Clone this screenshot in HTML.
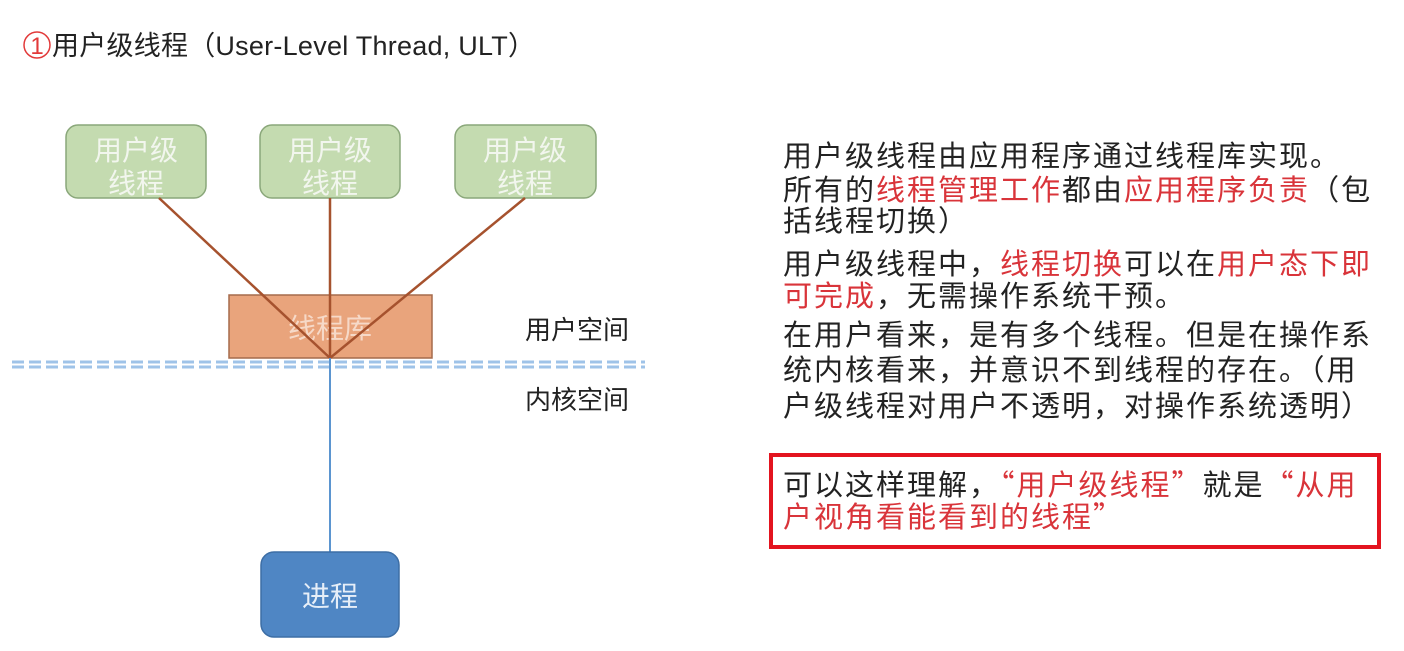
<!DOCTYPE html>
<html><head><meta charset="utf-8"><style>
body{margin:0;width:1404px;height:651px;background:#fff;position:relative;overflow:hidden;font-family:"Liberation Sans","Noto Sans CJK SC",sans-serif}
.t{position:absolute;left:783px;font-size:29px;letter-spacing:2px;color:#222;white-space:nowrap;line-height:34px;font-family:"Noto Sans CJK SC",sans-serif}
.r{color:#d9343a}
</style></head><body>
<svg width="1404" height="651" style="position:absolute;left:0;top:0">
<circle cx="37" cy="45" r="13" fill="none" stroke="#e23a3a" stroke-width="1.5"/>
<text x="37" y="54" font-size="24" fill="#e23a3a" text-anchor="middle" font-family="Liberation Sans,sans-serif">1</text>
<text x="52" y="55" font-size="27" fill="#222" font-family="Liberation Sans,Noto Sans CJK SC,sans-serif" textLength="483">用户级线程（User-Level Thread, ULT）</text>
<g fill="#c4dbb0" stroke="#8aa77a" stroke-width="1.5">
<rect x="66" y="125" width="140" height="73" rx="12"/>
<rect x="260" y="125" width="140" height="73" rx="12"/>
<rect x="455" y="125" width="141" height="73" rx="12"/>
</g>
<g fill="#f2f6ee" font-size="28" text-anchor="middle" font-family="Noto Sans CJK SC,sans-serif">
<text x="136" y="160">用户级</text><text x="136" y="193">线程</text>
<text x="330" y="160">用户级</text><text x="330" y="193">线程</text>
<text x="525" y="160">用户级</text><text x="525" y="193">线程</text>
</g>
<rect x="229" y="295" width="203" height="63" fill="#e9a47c" stroke="#a56b4c" stroke-width="1.5"/>
<text x="330" y="338" fill="#f6d9c8" font-size="28" text-anchor="middle" font-family="Noto Sans CJK SC,sans-serif">线程库</text>
<g stroke="#a6522e" stroke-width="2.5">
<line x1="159" y1="198" x2="330" y2="358"/>
<line x1="330" y1="198" x2="330" y2="358"/>
<line x1="525" y1="198" x2="330" y2="358"/>
</g>
<g stroke="#9fc3e8" stroke-width="3" stroke-dasharray="12,5">
<line x1="12" y1="362" x2="645" y2="362"/>
<line x1="12" y1="367" x2="645" y2="367"/>
</g>
<line x1="330" y1="358" x2="330" y2="553" stroke="#5b95d0" stroke-width="2"/>
<rect x="261" y="552" width="138" height="85" rx="13" fill="#4f86c4" stroke="#3d6ea5" stroke-width="1.5"/>
<text x="330" y="606" fill="#e6eef8" font-size="28" text-anchor="middle" font-family="Noto Sans CJK SC,sans-serif">进程</text>
<g fill="#222" font-size="26" font-family="Noto Sans CJK SC,sans-serif">
<text x="525" y="339">用户空间</text>
<text x="525" y="409">内核空间</text>
</g>
<rect x="771" y="455" width="608" height="92" fill="none" stroke="#e3141f" stroke-width="4"/>
</svg>
<div class="t" style="top:137px">用户级线程由应用程序通过线程库实现。</div>
<div class="t" style="top:171px">所有的<span class="r">线程管理工作</span>都由<span class="r">应用程序负责</span>（包</div>
<div class="t" style="top:202px">括线程切换）</div>
<div class="t" style="top:245px">用户级线程中，<span class="r">线程切换</span>可以在<span class="r">用户态下即</span></div>
<div class="t" style="top:277px"><span class="r">可完成</span>，无需操作系统干预。</div>
<div class="t" style="top:316px">在用户看来，是有多个线程。但是在操作系</div>
<div class="t" style="top:351px">统内核看来，并意识不到线程的存在。（用</div>
<div class="t" style="top:387px">户级线程对用户不透明，对操作系统透明）</div>
<div class="t" style="top:466px">可以这样理解，<span class="r">“用户级线程”</span>就是<span class="r">“从用</span></div>
<div class="t" style="top:498px"><span class="r">户视角看能看到的线程”</span></div>
</body></html>
